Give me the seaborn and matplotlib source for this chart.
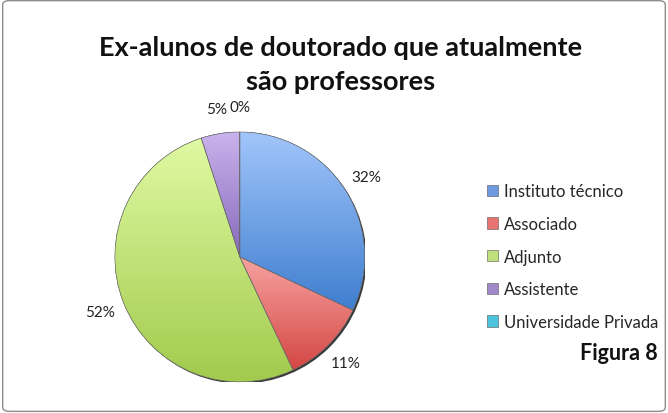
import matplotlib
matplotlib.use("Agg")
import matplotlib.pyplot as plt
import seaborn as sns
import numpy as np
from matplotlib.colors import LinearSegmentedColormap
from matplotlib.patches import FancyBboxPatch, Circle, Wedge

# Dados do gráfico
categorias = ["Instituto técnico", "Associado", "Adjunto", "Assistente", "Universidade Privada"]
valores = [32, 11, 52, 5, 0]
cores = ["#6e9be0", "#e87472", "#bfdf7a", "#a088cb", "#4cc3dc"]
# gradiente (claro em cima, escuro embaixo) de cada fatia
cores_topo = ["#a2c6fb", "#f7a3a1", "#dffaa3", "#c9b3ec", "#8ee3f2"]
cores_base = ["#3f7ecf", "#d44744", "#a2ca4d", "#8769bb", "#2fa9c6"]

sns.set_theme(style="white")
plt.rcParams['font.family'] = ['Lato', 'DejaVu Sans']

fig = plt.figure(figsize=(6.68, 4.14), dpi=100)
fig.patch.set_facecolor("white")

# moldura da figura
borda = FancyBboxPatch((0.004, 0.004), 0.992, 0.992, boxstyle="round,pad=0,rounding_size=0.01",
                       transform=fig.transFigure, fill=False, edgecolor="#8c8c8c", linewidth=1.0)
fig.patches.append(borda)

ax = fig.add_axes([0.172, 0.075, 0.374, 0.604])
wedges, textos, pcts = ax.pie(
    valores, colors=cores, startangle=90, counterclock=False,
    autopct='%.0f%%', pctdistance=1.2,
    wedgeprops=dict(edgecolor="#555555", linewidth=0.4),
    textprops=dict(fontsize=11, color="#222222"),
)

# sombra leve da pizza
ax.add_patch(Circle((0.014, -0.014), 1.0, facecolor="#3a3a3a", edgecolor="none", zorder=0))

# preenchimento em gradiente recortado por fatia
grad = np.linspace(1, 0, 256).reshape(-1, 1)
for w, c0, c1 in zip(wedges, cores_topo, cores_base):
    ext = w.get_path().get_extents()
    if ext.height <= 0 or ext.width <= 0:
        continue
    cmap = LinearSegmentedColormap.from_list("g", [c1, c0])
    im = ax.imshow(grad, cmap=cmap, aspect="auto", origin="upper",
                   extent=[ext.x0, ext.x1, ext.y0, ext.y1], zorder=w.get_zorder() + 0.1)
    im.set_clip_path(w)
    ax.add_patch(Wedge(w.center, w.r, w.theta1, w.theta2, facecolor="none",
                       edgecolor="#666666", linewidth=0.4, zorder=w.get_zorder() + 0.2))
ax.set_xlim(-1, 1)
ax.set_ylim(-1, 1)
ax.set_aspect("equal")

fig.text(0.51, 0.885, "Ex-alunos de doutorado que atualmente", ha="center", va="center",
         fontsize=19.5, fontweight="bold", color="#111111")
fig.text(0.51, 0.802, "são professores", ha="center", va="center",
         fontsize=19.5, fontweight="bold", color="#111111")

fig.legend(wedges, categorias, loc="center left", bbox_to_anchor=(0.707, 0.378),
           frameon=False, fontsize=12, handlelength=0.65, handleheight=0.65,
           handletextpad=0.35, labelspacing=1.0)

fig.text(0.985, 0.145, "Figura 8", ha="right", va="center", fontsize=15.5,
         fontweight="bold", color="#111111")

fig.savefig("out.png", dpi=100)
